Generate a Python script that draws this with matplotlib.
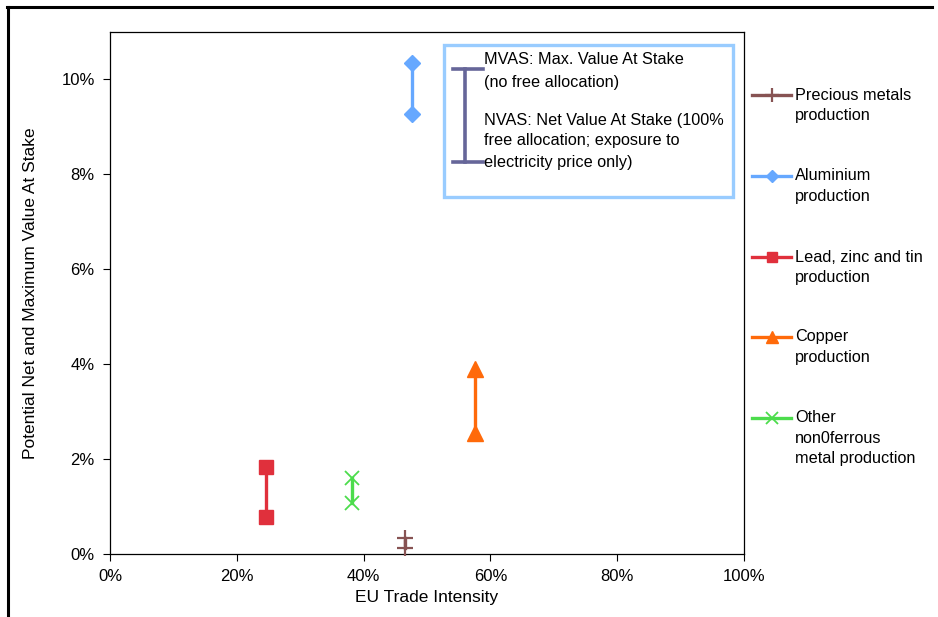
import matplotlib
matplotlib.use("Agg")
import matplotlib.pyplot as plt
from matplotlib.lines import Line2D
from matplotlib.patches import Rectangle
from matplotlib.ticker import PercentFormatter

plt.rcParams['font.family'] = ['Liberation Sans', 'DejaVu Sans']

# ---- data ----
series = ["Precious metals\nproduction",
          "Aluminium\nproduction",
          "Lead, zinc and tin\nproduction",
          "Copper\nproduction",
          "Other\nnon0ferrous\nmetal production"]
trade_intensity = [0.466, 0.476, 0.246, 0.575, 0.381]
nvas = [0.0013, 0.0928, 0.0077, 0.0255, 0.0107]
mvas = [0.0033, 0.1035, 0.0184, 0.0390, 0.0161]
x_ticks = [0, 0.2, 0.4, 0.6, 0.8, 1.0]
y_ticks = [0, 0.02, 0.04, 0.06, 0.08, 0.10]
x_label = "EU Trade Intensity"
y_label = "Potential Net and Maximum Value At Stake"
note_lines = ["MVAS: Max. Value At Stake", "(no free allocation)",
              "NVAS: Net Value At Stake (100%", "free allocation; exposure to",
              "electricity price only)"]

# ---- styles ----
colors = ["#875353", "#66A8FF", "#E0303C", "#FF6A0A", "#4CDC4C"]
markers = ["+", "D", "s", "^", "x"]
msizes = [12, 8, 10, 11, 10.5]
mews = [1.6, 1, 1, 1, 1.3]
leg_ms = [10, 6.5, 7, 8, 8]

W, H = 938, 617
fig = plt.figure(figsize=(W / 100, H / 100), dpi=100)

def fx(px):
    return px / W

def fy(py):
    return 1 - py / H

ax = fig.add_axes([fx(110), fy(554), fx(744) - fx(110), fy(32) - fy(554)])

for i in range(len(series)):
    ax.plot([trade_intensity[i], trade_intensity[i]], [nvas[i], mvas[i]],
            color=colors[i], lw=2.4, marker=markers[i], ms=msizes[i],
            mew=mews[i], mfc=colors[i], mec=colors[i], clip_on=False, zorder=3)

ax.set_xlim(0, 1.0)
ax.set_ylim(0, 0.11)
ax.set_xticks(x_ticks)
ax.set_yticks(y_ticks)
ax.xaxis.set_major_formatter(PercentFormatter(1.0, decimals=0))
ax.yaxis.set_major_formatter(PercentFormatter(1.0, decimals=0))
ax.tick_params(direction='out', length=5, width=0.8, labelsize=12, pad=6,
               colors='black')
for s in ax.spines.values():
    s.set_linewidth(0.9)
    s.set_color('black')
ax.set_xlabel(x_label, fontsize=12.5, labelpad=4)
ax.set_ylabel(y_label, fontsize=12.5, labelpad=17)

# ---- outer frame (left and top) ----
fig.add_artist(Line2D([fx(8), fx(8)], [0, fy(7)], color='black', lw=2.2,
                      transform=fig.transFigure))
fig.add_artist(Line2D([fx(7), fx(932)], [fy(7), fy(7)], color='black', lw=2.2,
                      transform=fig.transFigure))

# ---- explanatory box ----
fig.add_artist(Rectangle((fx(444), fy(197)), fx(733) - fx(444), fy(45) - fy(197),
                         transform=fig.transFigure, fill=True, fc='white',
                         ec='#99CCFF', lw=2.4, zorder=4))
beam_c = "#666699"
fig.add_artist(Line2D([fx(465), fx(465)], [fy(69), fy(162)], color=beam_c, lw=2.6,
                      transform=fig.transFigure, zorder=5))
for yy in (69, 162):
    fig.add_artist(Line2D([fx(453), fx(483)], [fy(yy), fy(yy)], color=beam_c,
                          lw=2.6, transform=fig.transFigure, zorder=5))
for t, yy in zip(note_lines, [60, 82, 120, 141, 162]):
    fig.text(fx(484), fy(yy), t, fontsize=11.7, va='center', ha='left', zorder=6)

# ---- legend (manual, right side) ----
first_line_y = [95, 176, 257, 337, 418]
for i in range(len(series)):
    yy = first_line_y[i]
    fig.add_artist(Line2D([fx(752), fx(791)], [fy(yy), fy(yy)], color=colors[i],
                          lw=2.4, transform=fig.transFigure))
    fig.add_artist(Line2D([fx(771.5)], [fy(yy)], color=colors[i], marker=markers[i],
                          ms=leg_ms[i], mew=mews[i], mfc=colors[i], mec=colors[i],
                          transform=fig.transFigure))
    for j, line in enumerate(series[i].split("\n")):
        fig.text(fx(795), fy(yy + 20.3 * j), line, fontsize=11.7, va='center', ha='left')

fig.savefig("out.png", dpi=100)
